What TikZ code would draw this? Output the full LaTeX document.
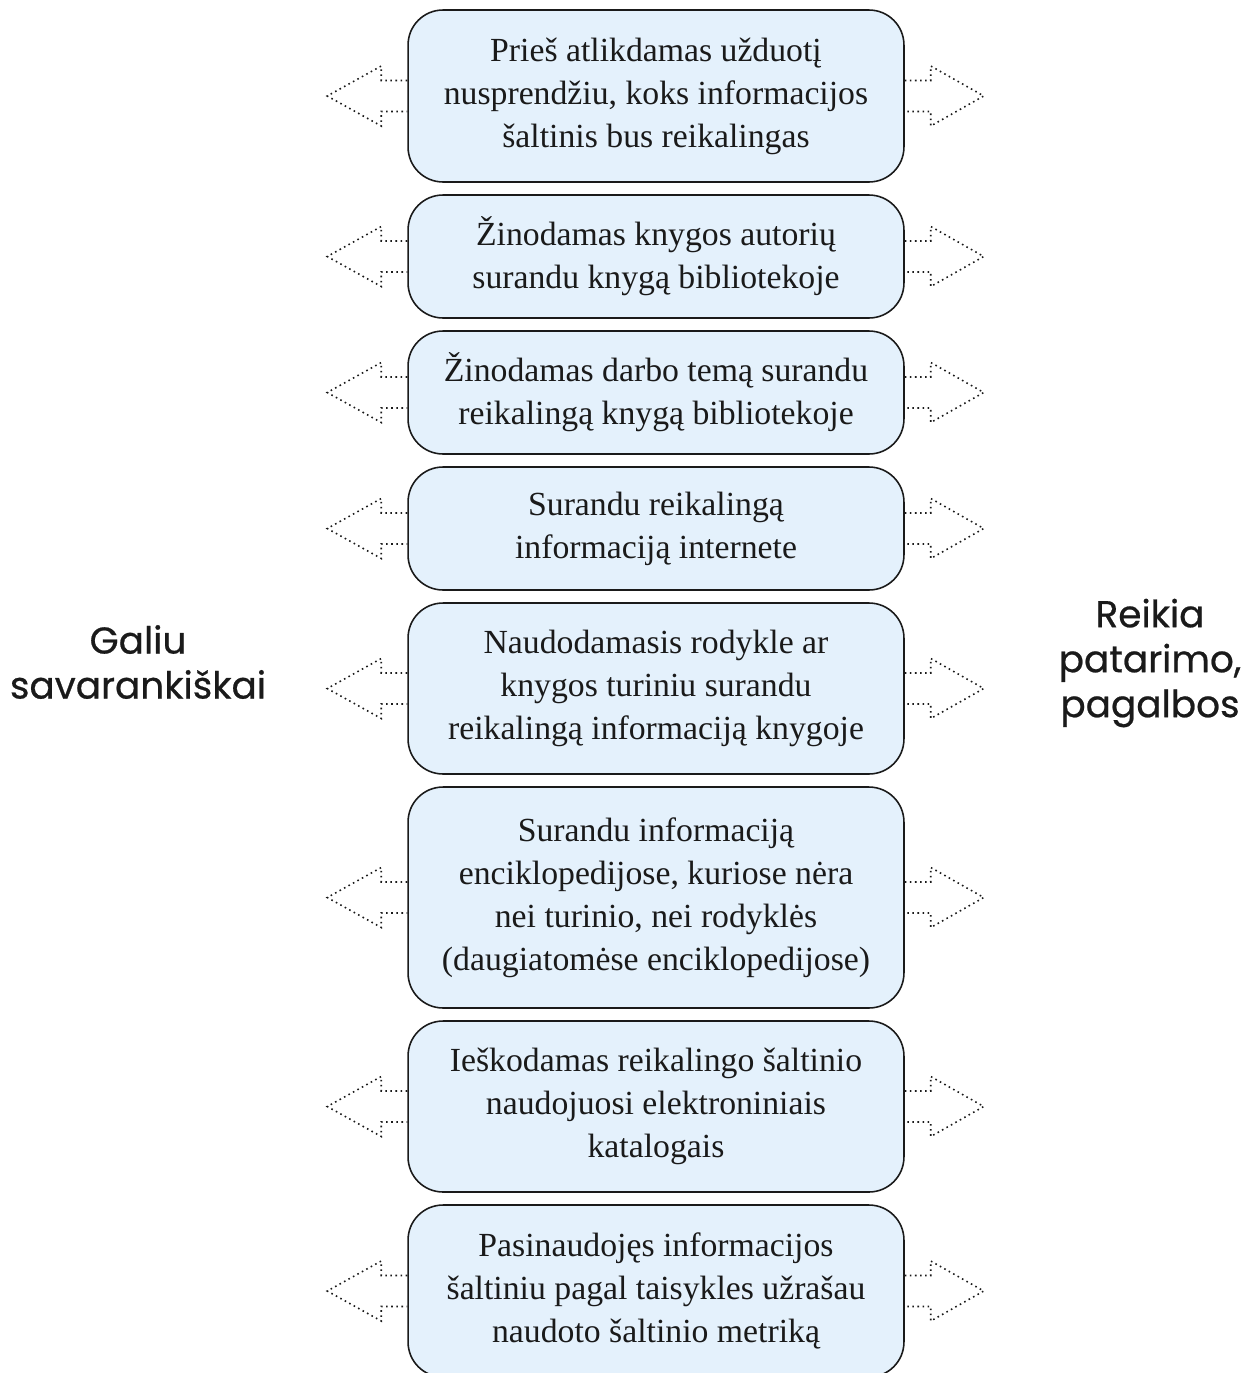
\documentclass[tikz,border=0pt]{standalone}
\usepackage{fontspec}
\setmainfont{Liberation Serif}
\newfontfamily\labelfont[FakeBold=0.6]{Poppins}
\usetikzlibrary{positioning}
\definecolor{stepfill}{HTML}{E4F1FC}
\definecolor{stepink}{HTML}{1A1A1A}
\tikzset{
  stepbox/.style={draw=stepink,line width=0.9pt,fill=stepfill,rounded corners=0.7cm,
                  minimum width=9.92cm,inner sep=2pt,align=center,
                  font=\fontsize{19.2}{24.5}\selectfont,text=stepink},
  dotarr/.style={dotted,line width=0.9pt,draw=stepink},
  sidelab/.style={font=\labelfont\fontsize{21.3}{25.6}\selectfont,align=center,text=stepink},
}

\begin{document}
\begin{tikzpicture}[x=0.02cm,y=-0.02cm]
  \useasboundingbox (0,0) rectangle (1248,1373);

  % ---- steps (top to bottom) ----
  \node[stepbox,minimum height=3.44cm] (b1) at (656,96)
    {Prieš atlikdamas užduotį\\nusprendžiu, koks informacijos\\šaltinis bus reikalingas};
  \node[stepbox,minimum height=2.46cm] (b2) at (656,256.5)
    {Žinodamas knygos autorių\\surandu knygą bibliotekoje};
  \node[stepbox,minimum height=2.46cm] (b3) at (656,392.5)
    {Žinodamas darbo temą surandu\\reikalingą knygą bibliotekoje};
  \node[stepbox,minimum height=2.46cm] (b4) at (656,528.5)
    {Surandu reikalingą\\informaciją internete};
  \node[stepbox,minimum height=3.42cm] (b5) at (656,688.5)
    {Naudodamasis rodykle ar\\knygos turiniu surandu\\reikalingą informaciją knygoje};
  \node[stepbox,minimum height=4.42cm] (b6) at (656,897.5)
    {Surandu informaciją\\enciklopedijose, kuriose nėra\\nei turinio, nei rodyklės\\(daugiatomėse enciklopedijose)};
  \node[stepbox,minimum height=3.42cm] (b7) at (656,1106.5)
    {Ieškodamas reikalingo šaltinio\\naudojuosi elektroniniais\\katalogais};
  \node[stepbox,minimum height=3.44cm] (b8) at (656,1291)
    {Pasinaudojęs informacijos\\šaltiniu pagal taisykles užrašau\\naudoto šaltinio metriką};

  % ---- dotted arrows on both sides ----
  \foreach \b in {b1,b2,b3,b4,b5,b6,b7,b8}{
    \draw[dotarr] (\b.west) ++(0,-15.5) -- ++(-26,0) -- ++(0,-14.5) -- ++(-54,30)
      -- ++(54,30) -- ++(0,-14.5) -- ++(26,0);
    \draw[dotarr] (\b.east) ++(0,-15.5) -- ++(26,0) -- ++(0,-14.5) -- ++(53,30)
      -- ++(-53,30) -- ++(0,-14.5) -- ++(-26,0);
  }

  % ---- side labels ----
  \node[sidelab] (lself) at (138,662) {Galiu\\savarankiškai};
  \node[sidelab] (lhelp) at (1150,663) {Reikia\\patarimo,\\pagalbos};
\end{tikzpicture}
\end{document}
